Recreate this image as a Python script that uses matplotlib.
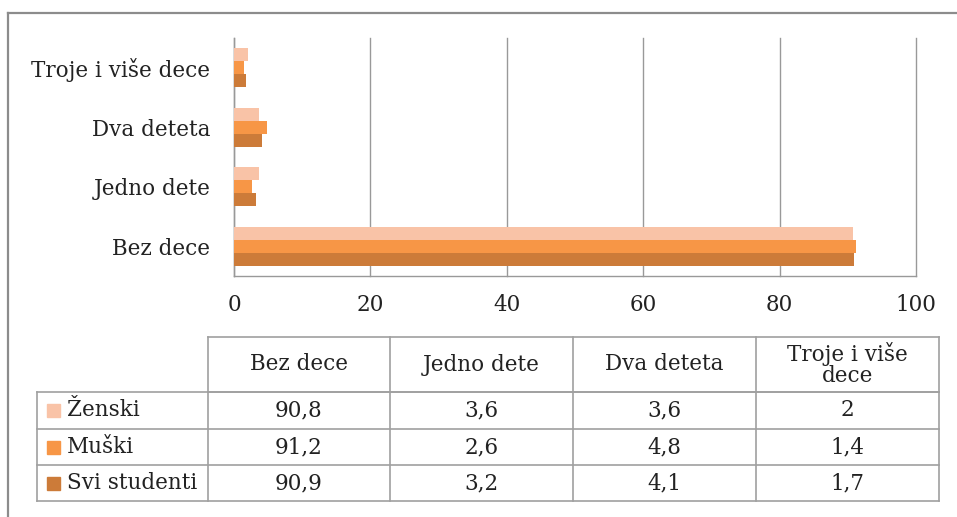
import matplotlib
matplotlib.use("Agg")
import matplotlib.pyplot as plt
from matplotlib.patches import Rectangle
from matplotlib.lines import Line2D
import numpy as np

categories = ["Bez dece", "Jedno dete", "Dva deteta", "Troje i više dece"]
table_headers = ["Bez dece", "Jedno dete", "Dva deteta", "Troje i više\ndece"]
series_names = ["Ženski", "Muški", "Svi studenti"]
zenski = [90.8, 3.6, 3.6, 2.0]
muski = [91.2, 2.6, 4.8, 1.4]
svi = [90.9, 3.2, 4.1, 1.7]
value_labels = [["90,8", "3,6", "3,6", "2"],
                ["91,2", "2,6", "4,8", "1,4"],
                ["90,9", "3,2", "4,1", "1,7"]]
xticks = [0, 20, 40, 60, 80, 100]

colors = ["#F9C3A7", "#F79646", "#CC7B39"]
FONT = "DejaVu Serif"
FS = 15.5
W, H = 957, 517

fig = plt.figure(figsize=(W / 100, H / 100), dpi=100)

def fx(px):
    return px / W

def fy(py):
    return 1 - py / H

# outer frame (partially cropped)
fig.add_artist(Line2D([fx(8), fx(8)], [fy(13), fy(H + 5)], color="#8c8c8c", lw=1.6, transform=fig.transFigure))
fig.add_artist(Line2D([fx(8), fx(W + 5)], [fy(13), fy(13)], color="#8c8c8c", lw=1.6, transform=fig.transFigure))

ax = fig.add_axes([fx(234), fy(276), fx(916) - fx(234), (276 - 38) / H])
y = np.arange(len(categories))
bh = 0.22
series = [zenski, muski, svi]
for i, (vals, c) in enumerate(zip(series, colors)):
    ax.barh(y + (1 - i) * bh, vals, height=bh, color=c, zorder=3, label=series_names[i])

ax.set_xlim(0, 100)
ax.set_ylim(-0.5, len(categories) - 0.5)
ax.set_xticks(xticks)
ax.set_xticklabels([str(t) for t in xticks], fontsize=FS, family=FONT, color="#222222")
ax.set_yticks(y)
ax.set_yticklabels(categories, fontsize=FS, family=FONT, color="#222222")
ax.tick_params(axis="both", length=0)
ax.tick_params(axis="x", pad=13)
ax.tick_params(axis="y", pad=17)
ax.grid(axis="x", color="#999999", lw=1.0, zorder=0)
for gl in ax.get_xgridlines():
    gl.set_clip_on(False)
for s in ["top", "right"]:
    ax.spines[s].set_visible(False)
for s in ["left", "bottom"]:
    ax.spines[s].set_color("#999999")
    ax.spines[s].set_linewidth(1.0)

# table
col_x = [208, 390, 573, 756, 939]
label_x0 = 37
row_y = [337, 392, 429, 465, 501]
lc = "#a0a0a0"
lw = 1.2

def hline(x0, x1, yy):
    fig.add_artist(Line2D([fx(x0), fx(x1)], [fy(yy), fy(yy)], color=lc, lw=lw, transform=fig.transFigure))

def vline(xx, y0, y1):
    fig.add_artist(Line2D([fx(xx), fx(xx)], [fy(y0), fy(y1)], color=lc, lw=lw, transform=fig.transFigure))

hline(col_x[0], col_x[-1], row_y[0])
hline(col_x[0], col_x[-1], row_y[1])
for yy in row_y[1:]:
    hline(label_x0, col_x[-1], yy)
for xx in col_x:
    vline(xx, row_y[0], row_y[-1])
vline(label_x0, row_y[1], row_y[-1])

for j, h in enumerate(table_headers):
    cx = (col_x[j] + col_x[j + 1]) / 2
    cy = (row_y[0] + row_y[1]) / 2
    fig.text(fx(cx), fy(cy), h, ha="center", va="center", fontsize=FS, family=FONT,
             color="#222222", linespacing=0.95)

for i, name in enumerate(series_names):
    cy = (row_y[i + 1] + row_y[i + 2]) / 2
    fig.add_artist(Rectangle((fx(47), fy(cy + 6.5)), 13 / W, 13 / H, color=colors[i],
                             transform=fig.transFigure))
    fig.text(fx(67), fy(cy), name, ha="left", va="center", fontsize=FS, family=FONT, color="#222222")
    for j, v in enumerate(value_labels[i]):
        cx = (col_x[j] + col_x[j + 1]) / 2
        fig.text(fx(cx), fy(cy), v, ha="center", va="center", fontsize=FS, family=FONT, color="#222222")

fig.savefig("out.png", dpi=100)
